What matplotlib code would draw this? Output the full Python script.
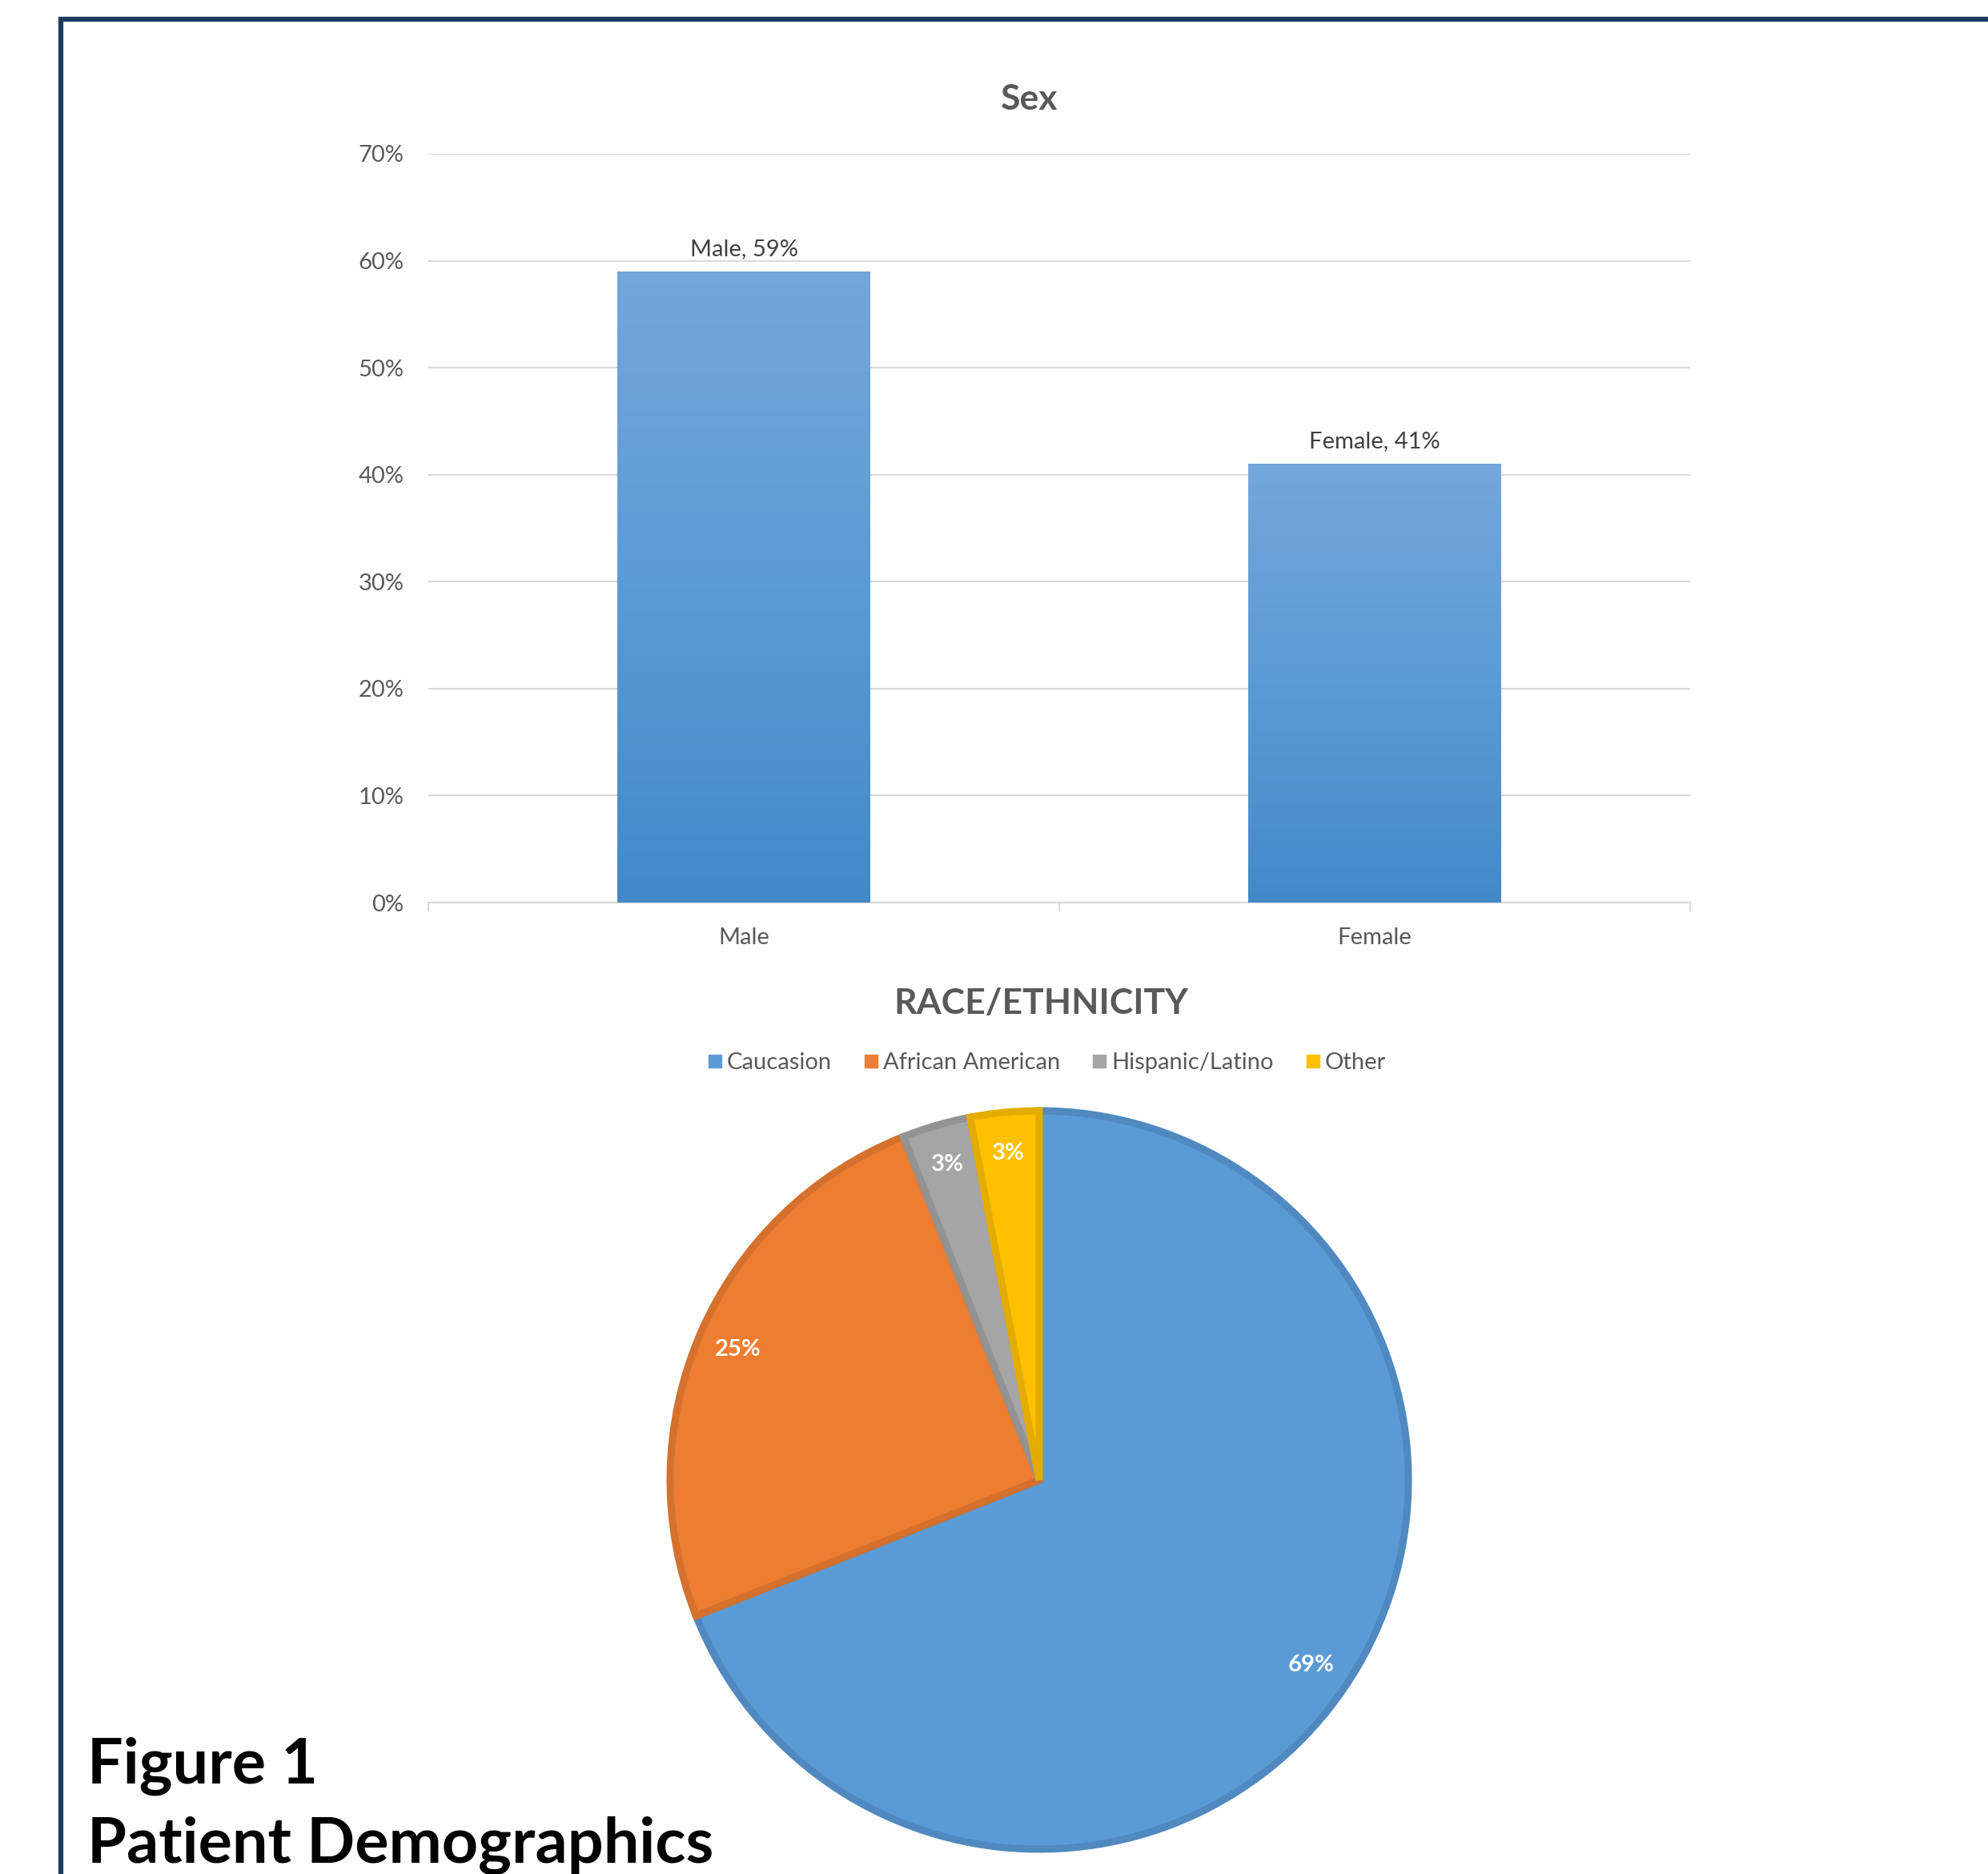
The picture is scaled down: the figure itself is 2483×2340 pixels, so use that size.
import numpy as np
import matplotlib
matplotlib.use('Agg')
import matplotlib.pyplot as plt
from matplotlib.lines import Line2D

plt.rcParams['font.family'] = ['Lato', 'DejaVu Sans']

# data
sex_labels = ['Male', 'Female']
sex_values = [0.59, 0.41]
y_ticks = [0.0, 0.1, 0.2, 0.3, 0.4, 0.5, 0.6, 0.7]

race_labels = ['Caucasion', 'African American', 'Hispanic/Latino', 'Other']
race_values = [69, 25, 3, 3]
race_colors = ['#5B9BD5', '#ED7D31', '#A5A5A5', '#FFC000']
race_edges = ['#4F89BF', '#D5712C', '#939393', '#E5AC00']

W, H = 2483, 2340
fig = plt.figure(figsize=(W / 100, H / 100), dpi=100)
fig.patch.set_facecolor('white')

def px_rect(x0, y0, x1, y1):
    # pixel box (top-left origin) -> figure fraction rect
    return [x0 / W, 1 - y1 / H, (x1 - x0) / W, (y1 - y0) / H]

grey_txt = '#595959'

# ---- bar chart: Sex ----
ax = fig.add_axes(px_rect(535, 192, 2111, 1127))
x = np.arange(len(sex_labels))
bars = ax.bar(x, sex_values, width=0.4, color='#5B9BD5', zorder=3)

grad = np.linspace(0, 1, 256).reshape(-1, 1)
cmap = matplotlib.colors.LinearSegmentedColormap.from_list('bar', ['#4389C8', '#5B9BD5', '#74A7DB'])
for b in bars:
    bx, by = b.get_x(), b.get_y()
    im = ax.imshow(grad, cmap=cmap, origin='lower', aspect='auto', zorder=4,
                   extent=[bx, bx + b.get_width(), by, by + b.get_height()])
    im.set_clip_path(b)

for xi, lab, v in zip(x, sex_labels, sex_values):
    ax.annotate(f'{lab}, {v:.0%}', (xi, v), xytext=(0, 11), textcoords='offset points',
                ha='center', va='bottom', fontsize=21, color='#404040')

ax.set_xlim(-0.5, 1.5)
ax.set_ylim(0, 0.7)
ax.set_yticks(y_ticks)
ax.set_yticklabels([f'{t:.0%}' for t in y_ticks])
ax.set_xticks(x)
ax.set_xticklabels(sex_labels)
ax.set_xticks([-0.5, 0.5, 1.5], minor=True)
ax.tick_params(axis='x', which='major', length=0, pad=22, labelsize=21, labelcolor=grey_txt)
ax.tick_params(axis='x', which='minor', length=8, width=1.5, color='#D9D9D9')
ax.tick_params(axis='y', length=0, pad=22, labelsize=21, labelcolor=grey_txt)
ax.grid(axis='y', color='#D9D9D9', lw=1.5, zorder=0)
for s in ['top', 'right', 'left']:
    ax.spines[s].set_visible(False)
ax.spines['bottom'].set_color('#D9D9D9')
ax.spines['bottom'].set_linewidth(1.5)

fig.text(1286 / W, 1 - 124 / H, 'Sex', ha='center', va='center',
         fontsize=32, fontweight='bold', color=grey_txt)

# ---- pie chart: Race/Ethnicity ----
pax = fig.add_axes(px_rect(1298 - 461, 1848 - 461, 1298 + 461, 1848 + 461))
wedges, texts, autotexts = pax.pie(race_values, colors=race_colors, startangle=90,
                                   counterclock=False, radius=1, autopct='%d%%',
                                   pctdistance=0.89,
                                   textprops=dict(color='white', fontsize=21, fontweight='bold'),
                                   wedgeprops=dict(linewidth=6.5))
for w, ec in zip(wedges, race_edges):
    w.set_edgecolor(ec)
    w.set_clip_on(False)
pax.set_xlim(-1, 1)
pax.set_ylim(-1, 1)
pax.set_aspect('equal')
pax.axis('off')

fig.text(1300 / W, 1 - 1253 / H, 'RACE/ETHNICITY', ha='center', va='center',
         fontsize=32, fontweight='bold', color=grey_txt)

handles = [Line2D([], [], marker='s', linestyle='none', markersize=11,
                  markerfacecolor=c, markeredgecolor=c) for c in race_colors]
fig.legend(handles, race_labels, loc='center', bbox_to_anchor=(1306 / W, 1 - 1327 / H),
           ncol=4, frameon=False, fontsize=21, labelcolor=grey_txt,
           handletextpad=0.1, columnspacing=1.3, handlelength=0.8)

# ---- frame and caption ----
fig.add_artist(Line2D([76 / W, 76 / W], [0, 1 - 24 / H], color='#1B3A5E', lw=4.5,
                      solid_capstyle='butt'))
fig.add_artist(Line2D([73 / W, 1], [1 - 24 / H, 1 - 24 / H], color='#1B3A5E', lw=4.5,
                      solid_capstyle='butt'))

fig.text(109 / W, 1 - 2205 / H, 'Figure 1', ha='left', va='center',
         fontsize=57, fontweight='bold', color='black')
fig.text(109 / W, 1 - 2304 / H, 'Patient Demographics', ha='left', va='center',
         fontsize=57, fontweight='bold', color='black')

fig.savefig('out.png', dpi=100, facecolor='white')
